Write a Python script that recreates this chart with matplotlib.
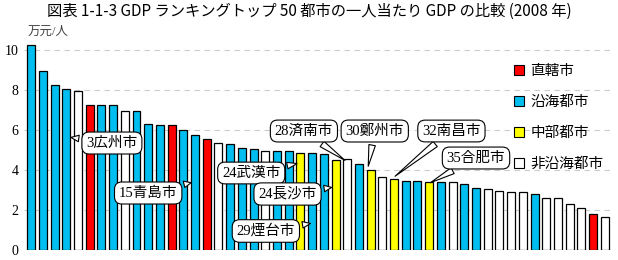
import matplotlib.pyplot as plt
from matplotlib.patches import Patch

plt.rcParams['font.family'] = ['Liberation Serif', 'Noto Sans CJK JP']

# GDP per capita (10k yuan / person), top 50 cities, 2008
gdp = [10.25, 8.97, 8.25, 8.05, 7.95, 7.27, 7.27, 7.27, 6.95, 6.95,
       6.3, 6.25, 6.25, 5.98, 5.75, 5.55, 5.37, 5.3, 5.1, 5.03,
       4.97, 4.97, 4.97, 4.85, 4.85, 4.8, 4.52, 4.53, 4.3, 4.0,
       3.63, 3.55, 3.45, 3.45, 3.38, 3.38, 3.38, 3.3, 3.12, 3.05,
       2.95, 2.88, 2.88, 2.78, 2.62, 2.62, 2.28, 2.08, 1.78, 1.63]
# R = 直轄市, C = 沿海都市, Y = 中部都市, W = 非沿海都市
group = list('CCCCWRCCWC' 'CCRCCRWCCC' 'WCCYCCYWCY' 'WYCCYCWCCW' 'WWWCWWWWRW')

group_names = {'R': '直轄市', 'C': '沿海都市', 'Y': '中部都市', 'W': '非沿海都市'}
group_colors = {'R': '#FF0000', 'C': '#00BFF0', 'Y': '#FFFF00', 'W': '#FFFFFF'}

callouts = ['3広州市', '15青島市', '24武漢市', '24長沙市', '29煙台市',
            '28済南市', '30鄭州市', '32南昌市', '35合肥市']
# (box centre, arrow tip) in data coordinates
callout_pos = [((7.9, 5.35), (4.16, 5.65)),
               ((11.0, 2.85), (14.9, 3.4)),
               ((19.8, 3.85), (23.95, 4.35)),
               ((22.9, 2.8), (26.9, 3.15)),
               ((21.05, 0.95), (25.1, 1.35)),
               ((24.3, 5.95), (28.0, 4.4)),
               ((30.35, 5.95), (29.75, 4.05)),
               ((36.9, 5.95), (31.9, 3.6)),
               ((39.0, 4.6), (34.9, 3.3))]

fig = plt.figure(figsize=(6.18, 2.6), dpi=100)
ax = fig.add_axes([0.039, 0.0385, 0.951, 0.8075])

x = range(1, len(gdp) + 1)
ax.bar(x, gdp, width=0.68, color=[group_colors[g] for g in group],
       edgecolor='black', linewidth=0.9, zorder=2)

ax.set_xlim(0.4, 50.6)
ax.set_ylim(0, 10.5)
ax.set_yticks([0, 2, 4, 6, 8, 10])
ax.tick_params(axis='y', length=0, labelsize=10, pad=4)
ax.set_xticks([])
for s in ax.spines.values():
    s.set_visible(False)
ax.grid(axis='y', color='#CCCCCC', linestyle=(0, (5, 4)), linewidth=0.8, zorder=0)

for text, (box, tip) in zip(callouts, callout_pos):
    ax.annotate(text, xy=tip, xytext=box, ha='center', va='center',
                fontsize=10.5, zorder=5,
                bbox=dict(boxstyle='round,pad=0.3,rounding_size=0.5',
                          fc='white', ec='black', lw=0.8),
                arrowprops=dict(arrowstyle='wedge,tail_width=0.45,shrink_factor=0.5',
                                fc='white', ec='black', lw=0.8))

handles = [Patch(facecolor=group_colors[k], edgecolor='black', linewidth=0.8,
                 label=group_names[k]) for k in 'RCYW']
ax.legend(handles=handles, loc='upper left', bbox_to_anchor=(0.824, 0.91),
          frameon=False, fontsize=10.5, handlelength=0.7, handleheight=0.7,
          handletextpad=0.4, labelspacing=1.2, borderaxespad=0)

fig.text(0.044, 0.855, '万元/人', fontsize=9, color='#444444', va='bottom')
fig.text(0.5, 0.955, '図表 1-1-3 GDP ランキングトップ 50 都市の一人当たり GDP の比較 (2008 年)',
         ha='center', va='center', fontsize=11,
         family=['Noto Sans CJK JP', 'DejaVu Sans'])

fig.savefig('out.png', dpi=100)
